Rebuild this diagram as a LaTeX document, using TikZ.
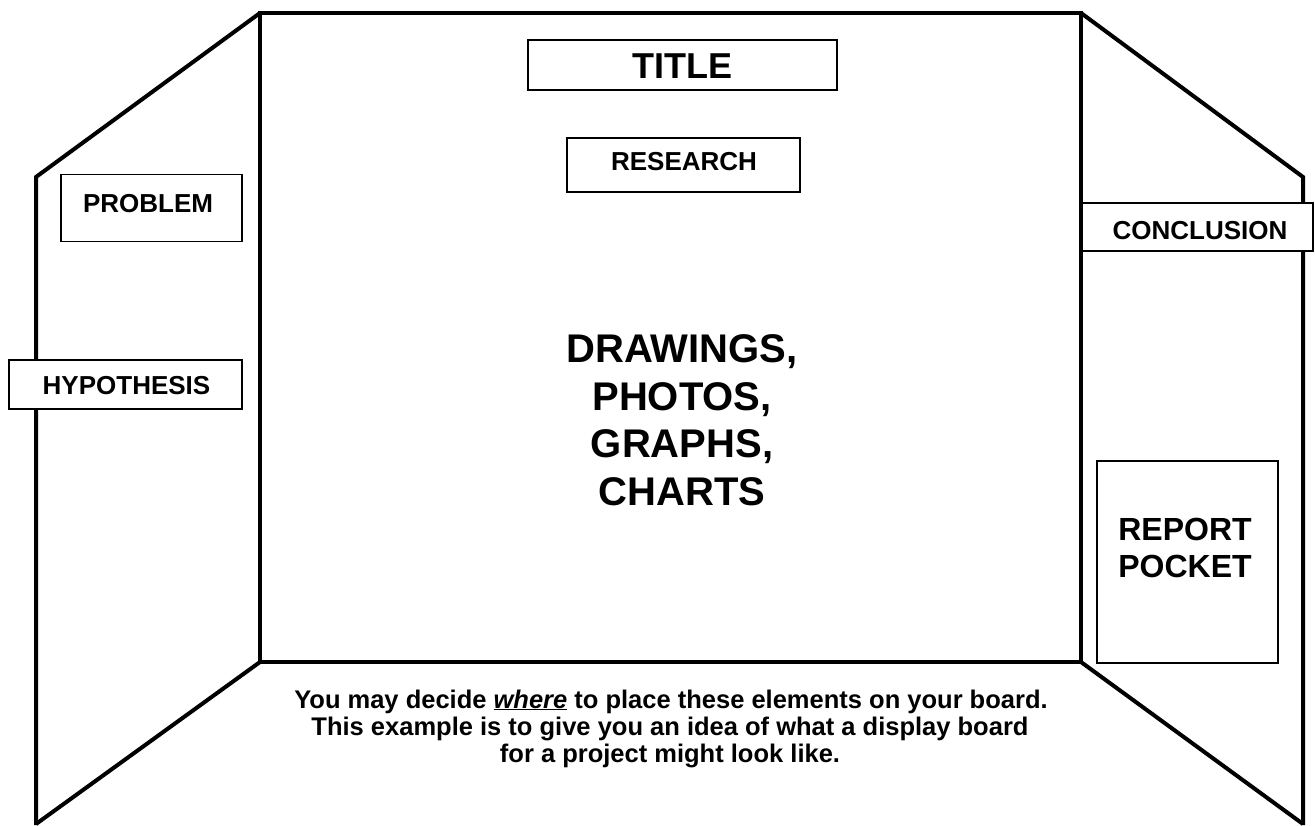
\documentclass[tikz,border=0pt]{standalone}
\usepackage{fontspec}
\setmainfont{Liberation Sans}
\begin{document}
\begin{tikzpicture}[x=1pt,y=-1pt,
  panel/.style={line width=4pt,line join=miter},
  labelbox/.style={draw,line width=1.8pt,fill=white,inner sep=0pt},
  lbl/.style={anchor=base,inner sep=0pt,font=\bfseries\fontsize{26}{30}\selectfont},
  note/.style={anchor=base,inner sep=0pt,font=\bfseries\fontsize{25.5}{28}\selectfont}]
\useasboundingbox (0,0) rectangle (1315,825);
% board outline
\coordinate (ctl) at (260,13);
\coordinate (ctr) at (1081,13);
\coordinate (cbl) at (260,662);
\coordinate (cbr) at (1081,662);
\coordinate (ltop) at (36,177);
\coordinate (lbot) at (36,825);
\coordinate (lend) at (36,824);
\coordinate (rtop) at (1303,177);
\coordinate (rbot) at (1303,825);
\coordinate (rend) at (1303,824);
\draw[panel] (ctl) rectangle (cbr);
\draw[panel] (ctl) -- (ltop) -- (lbot);
\draw[panel] (cbl) -- (lend);
\draw[panel] (ctr) -- (rtop) -- (rbot);
\draw[panel] (cbr) -- (rend);
% boxes
\node[labelbox,minimum width=309,minimum height=50] (titlebox) at (682.5,65) {};
\node[lbl,font=\bfseries\fontsize{36}{40}\selectfont] (title) at (682.5,78) {TITLE};
\node[labelbox,minimum width=233,minimum height=54] (resbox) at (683.5,165) {};
\node[lbl] (research) at (684,170) {RESEARCH};
\node[labelbox,minimum width=181,minimum height=67] (probbox) at (151.5,208) {};
\node[lbl] (problem) at (148,212) {PROBLEM};
\node[labelbox,minimum width=233,minimum height=49] (hypbox) at (125.5,384.5) {};
\node[lbl] (hypothesis) at (126.5,394) {HYPOTHESIS};
\node[labelbox,minimum width=231,minimum height=48] (conbox) at (1197.5,227) {};
\node[lbl] (conclusion) at (1200,239) {CONCLUSION};
\node[labelbox,minimum width=181,minimum height=202] (repbox) at (1187.5,562) {};
\node[lbl,font=\bfseries\fontsize{32}{34}\selectfont] (report) at (1185,540) {REPORT};
\node[lbl,font=\bfseries\fontsize{32}{34}\selectfont] (pocket) at (1185,577) {POCKET};
% centre text
\begin{scope}[every node/.style={lbl,font=\bfseries\fontsize{40}{46}\selectfont}]
\node (d1) at (682,362) {DRAWINGS,};
\node (d2) at (682,410) {PHOTOS,};
\node (d3) at (682,457) {GRAPHS,};
\node (d4) at (682,505) {CHARTS};
\end{scope}
% note
\node[note] (n1) at (671,708) {You may decide \underline{\textit{where}} to place these elements on your board.};
\node[note] (n2) at (670,735) {This example is to give you an idea of what a display board};
\node[note] (n3) at (670,762) {for a project might look like.};
\end{tikzpicture}
\end{document}
